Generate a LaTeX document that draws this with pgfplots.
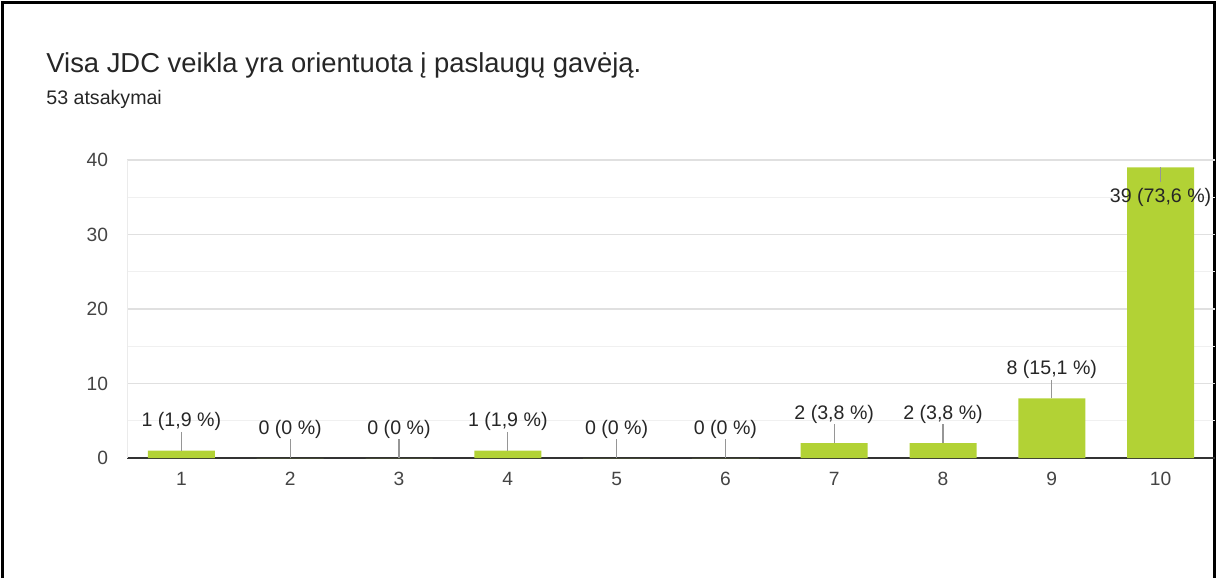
\documentclass[border=0pt]{standalone}
\usepackage{fontspec}
\setmainfont{Liberation Sans}
\usepackage{pgfplots}
\pgfplotsset{compat=1.18}

\definecolor{bargreen}{RGB}{178,210,53}
\definecolor{ticktext}{RGB}{68,68,68}
\definecolor{leader}{RGB}{150,150,150}

\begin{document}
\begin{tikzpicture}
% page = 1218x578 px at 0.5pt per px
\useasboundingbox (0,0) rectangle (609pt,-289pt);
\draw[black, line width=1.5pt] (1.2pt,-289pt) -- (1.2pt,-1.2pt) -- (607.3pt,-1.2pt) -- (607.3pt,-289pt);

\node[anchor=base west, inner sep=0pt, font=\fontsize{13.7}{15}\selectfont, text=black!85] at (23pt,-36pt)
  {Visa JDC veikla yra orientuota į paslaugų gavėją.};
\node[anchor=base west, inner sep=0pt, font=\fontsize{9.8}{11}\selectfont, text=black!85] at (23pt,-52pt)
  {53 atsakymai};

\begin{axis}[
  at={(63.5pt,-229pt)}, anchor=south west,
  scale only axis,
  width=544pt, height=149pt,
  xmin=0.5, xmax=10.5,
  ymin=0, ymax=40,
  xtick={1,...,10},
  ytick={0,10,20,30,40},
  minor ytick={5,15,25,35},
  grid=both,
  major grid style={draw=black!12, line width=0.6pt},
  minor grid style={draw=black!6, line width=0.5pt},
  xmajorgrids=false, xminorgrids=false,
  axis lines*=left,
  y axis line style={draw=black!8, line width=0.5pt},
  x axis line style={draw=black!80, line width=0.8pt, -},
  major tick length=0pt, minor tick length=0pt,
  tick label style={font=\fontsize{9.6}{11}\selectfont, text=ticktext},
  /pgf/number format/assume math mode=true,
  yticklabel style={xshift=-6pt},
  xticklabel style={yshift=-3.5pt},
  clip=false,
]
\addplot[ybar, bar width=33.5pt, fill=bargreen, draw=none,
  error bars/.cd, y dir=both, y explicit,
  error mark=none, error bar style={draw=leader, line width=0.6pt}]
  coordinates {
  (1,1)  += (0,2.5) -= (0,0)
  (2,0)  += (0,2.5) -= (0,0)
  (3,0)  += (0,2.5) -= (0,0)
  (4,1)  += (0,2.5) -= (0,0)
  (5,0)  += (0,2.5) -= (0,0)
  (6,0)  += (0,2.5) -= (0,0)
  (7,2)  += (0,2.5) -= (0,0)
  (8,2)  += (0,2.5) -= (0,0)
  (9,8)  += (0,2.5) -= (0,0)
  (10,39) += (0,0) -= (0,2)
  };
\addplot[draw=none, mark=none, nodes near coords, point meta=explicit symbolic,
  every node near coord/.append style={anchor=center, inner sep=0pt,
    font=\fontsize{9.8}{11}\selectfont, text=black!85}]
  coordinates {
  (1,4.9) [1 (1,9 \%)]
  (2,3.9) [0 (0 \%)]
  (3,3.9) [0 (0 \%)]
  (4,4.9) [1 (1,9 \%)]
  (5,3.9) [0 (0 \%)]
  (6,3.9) [0 (0 \%)]
  (7,5.9) [2 (3,8 \%)]
  (8,5.9) [2 (3,8 \%)]
  (9,11.9) [8 (15,1 \%)]
  (10,35.0) [39 (73,6 \%)]
  };
\end{axis}
\end{tikzpicture}
\end{document}
